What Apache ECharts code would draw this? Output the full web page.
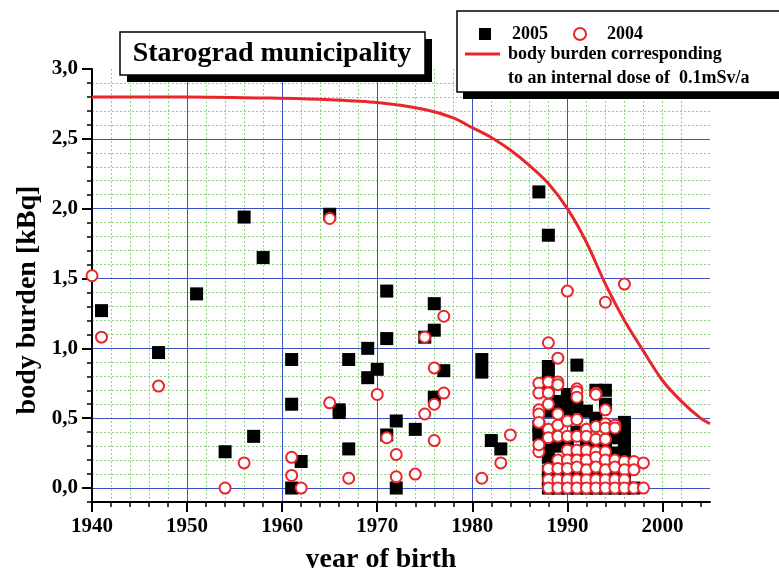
<!DOCTYPE html>
<html>
<head>
<meta charset="utf-8">
<script src="https://cdn.jsdelivr.net/npm/echarts@6/dist/echarts.min.js"></script>
<style>
html, body { margin: 0; padding: 0; background: #fff; }
#chart { width: 779px; height: 568px; }
</style>
</head>
<body>
<div id="chart"></div>
<script>
const FONT = '"Liberation Serif", "Times New Roman", serif'
const BLUE = '#3a52c0'
const GREEN = '#8fd27f'
const RED = '#e8262b'

// tick labels
const xTicks = [1940, 1950, 1960, 1970, 1980, 1990, 2000]
const yTicks = [0, 0.5, 1.0, 1.5, 2.0, 2.5, 3.0]

// 2005 measurements [year of birth, body burden kBq]
const data2005 = [
    [1941, 1.27], [1947, 0.97], [1951, 1.39], [1954, 0.26], [1956, 1.94], [1957, 0.37],
    [1958, 1.65], [1961, 0.92], [1961, 0.60], [1961, 0.0], [1962, 0.19], [1965, 1.96],
    [1966, 0.54], [1966, 0.56], [1967, 0.92], [1967, 0.28], [1969, 1.0], [1969, 0.79],
    [1970, 0.85], [1971, 1.41], [1971, 1.07], [1971, 0.38], [1972, 0.48], [1972, 0.0],
    [1974, 0.42], [1975, 1.08], [1976, 1.32], [1976, 1.13], [1976, 0.65], [1977, 0.84],
    [1981, 0.92], [1981, 0.83], [1982, 0.34], [1983, 0.28], [1987, 2.12], [1988, 1.81],
    [1987, 0.44], [1987, 0.38],
    [1988, 0.87], [1988, 0.78], [1988, 0.70], [1988, 0.55], [1988, 0.40], [1988, 0.30],
    [1988, 0.22], [1988, 0.12], [1988, 0.05], [1988, 0.0],
    [1989, 0.62], [1989, 0.30], [1989, 0.10], [1989, 0.0],
    [1990, 0.67], [1990, 0.62], [1990, 0.55], [1990, 0.35], [1990, 0.15], [1990, 0.0],
    [1991, 0.88], [1991, 0.58], [1991, 0.40], [1991, 0.25], [1991, 0.10], [1991, 0.0],
    [1992, 0.55], [1992, 0.33], [1992, 0.10], [1992, 0.0],
    [1993, 0.70], [1993, 0.50], [1993, 0.30], [1993, 0.10], [1993, 0.0],
    [1994, 0.70], [1994, 0.60], [1994, 0.30], [1994, 0.10], [1994, 0.0],
    [1995, 0.36], [1995, 0.25], [1995, 0.10], [1995, 0.0],
    [1996, 0.47], [1996, 0.41], [1996, 0.35], [1996, 0.30], [1996, 0.23], [1996, 0.17],
    [1996, 0.10], [1996, 0.05], [1996, 0.0], [1997, 0.0]
]

// 2004 measurements
const data2004 = [
    [1940, 1.52], [1941, 1.08], [1947, 0.73], [1954, 0.0], [1956, 0.18], [1961, 0.22],
    [1961, 0.09], [1962, 0.0], [1965, 1.93], [1965, 0.61], [1967, 0.07], [1970, 0.67],
    [1971, 0.36], [1972, 0.24], [1972, 0.08], [1974, 0.10], [1975, 1.08], [1975, 0.53],
    [1976, 0.86], [1976, 0.60], [1976, 0.34], [1977, 1.23], [1977, 0.68], [1981, 0.07],
    [1983, 0.18], [1984, 0.38], [1987, 0.26], [1988, 1.04], [1989, 0.93], [1990, 1.41],
    [1994, 1.33], [1996, 1.46],
    [1987, 0.75], [1987, 0.68], [1987, 0.56], [1987, 0.53], [1987, 0.47], [1987, 0.31],
    [1988, 0.76], [1988, 0.68], [1988, 0.60], [1988, 0.42], [1988, 0.36], [1988, 0.14],
    [1988, 0.06], [1988, 0.0],
    [1989, 0.76], [1989, 0.74], [1989, 0.53], [1989, 0.45], [1989, 0.37], [1989, 0.20],
    [1989, 0.14], [1989, 0.06], [1989, 0.0],
    [1990, 0.48], [1990, 0.37], [1990, 0.27], [1990, 0.20], [1990, 0.14], [1990, 0.06], [1990, 0.0],
    [1991, 0.71], [1991, 0.69], [1991, 0.65], [1991, 0.49], [1991, 0.37], [1991, 0.27],
    [1991, 0.20], [1991, 0.15], [1991, 0.06], [1991, 0.0],
    [1992, 0.42], [1992, 0.37], [1992, 0.27], [1992, 0.20], [1992, 0.13], [1992, 0.06], [1992, 0.0],
    [1993, 0.68], [1993, 0.67], [1993, 0.44], [1993, 0.35], [1993, 0.26], [1993, 0.22],
    [1993, 0.15], [1993, 0.06], [1993, 0.0],
    [1994, 0.56], [1994, 0.46], [1994, 0.43], [1994, 0.35], [1994, 0.26], [1994, 0.20],
    [1994, 0.13], [1994, 0.06], [1994, 0.0],
    [1995, 0.45], [1995, 0.43], [1995, 0.20], [1995, 0.15], [1995, 0.06], [1995, 0.0],
    [1996, 0.19], [1996, 0.13], [1996, 0.06], [1996, 0.0],
    [1997, 0.19], [1997, 0.13], [1997, 0.0],
    [1998, 0.18], [1998, 0.0]
]

// body burden for an internal dose of 0.1 mSv/a
const curveYears = [1940, 1950, 1960, 1965, 1970, 1975, 1978, 1980, 1982, 1984, 1986, 1988, 1990, 1992, 1994, 1996, 1998, 2000, 2002, 2004, 2005]
const curveValues = [2.80, 2.80, 2.79, 2.78, 2.76, 2.71, 2.65, 2.58, 2.51, 2.42, 2.31, 2.18, 2.00, 1.76, 1.46, 1.20, 0.98, 0.77, 0.62, 0.50, 0.46]

const curveName = 'body burden corresponding\nto an internal dose of  0.1mSv/a'
const curveLines = curveName.split('\n')

// minor ticks every 2 years
const minorX = []
for (let y = 1940; y < 2005; y += 2) minorX.push(y)

const chart = echarts.init(document.getElementById('chart'))

const labelStyle = { color: '#000', fontFamily: FONT, fontWeight: 'bold', fontSize: 21 }
const legendText = { color: '#000', fontFamily: FONT, fontWeight: 'bold', fontSize: 18 }

const option = {
    animation: false,
    grid: { left: 92, right: 69, top: 69, bottom: 66, outerBoundsMode: 'none' },
    xAxis: [{
        // dotted minor grid
        type: 'value', min: 1940, max: 2005, interval: 2, position: 'bottom', z: 0,
        axisLine: { show: false, onZero: false },
        axisTick: { show: true, length: 5, customValues: minorX, lineStyle: { color: '#000', width: 1.5 } },
        axisLabel: { show: false },
        splitLine: { show: true, showMaxLine: false, lineStyle: { color: GREEN, type: [2, 2], width: 1 } }
    }, {
        type: 'value', min: 1940, max: 2005, interval: 10, position: 'bottom', z: 1,
        axisLine: { onZero: false, lineStyle: { color: '#000', width: 2 } },
        axisTick: { length: 10, customValues: xTicks, lineStyle: { color: '#000', width: 2 } },
        axisLabel: Object.assign({ customValues: xTicks, margin: 14, formatter: v => String(v) }, labelStyle),
        splitLine: { show: true, showMaxLine: false, lineStyle: { color: BLUE, width: 1 } }
    }],
    yAxis: [{
        type: 'value', min: -0.1, max: 3.0, interval: 0.1, position: 'left', z: 0,
        axisLine: { show: false, onZero: false },
        axisTick: { show: true, length: 5, lineStyle: { color: '#000', width: 1.5 } },
        axisLabel: { show: false },
        splitLine: { show: true, showMaxLine: false, lineStyle: { color: GREEN, type: [2, 2], width: 1 } }
    }, {
        type: 'value', min: -0.1, max: 3.0, position: 'left', z: 1,
        axisLine: { show: true, onZero: false, lineStyle: { color: '#000', width: 2 } },
        axisTick: { show: true, length: 10, customValues: yTicks, lineStyle: { color: '#000', width: 2 } },
        axisLabel: Object.assign({
            customValues: yTicks, margin: 14,
            formatter: v => (v < -0.05 ? '' : v.toFixed(1).replace('.', ','))
        }, labelStyle),
        splitLine: { show: true, showMaxLine: false, lineStyle: { color: BLUE, width: 1 } }
    }],
    legend: [{
        data: ['2005', '2004'], left: 479, top: 25, padding: 0, z: 10,
        itemWidth: 12, itemHeight: 12, itemGap: 25,
        textStyle: Object.assign({ padding: [0, 0, 0, 16] }, legendText)
    }, {
        data: [curveName], left: 465, top: 45, padding: 0, z: 10,
        icon: 'rect', itemWidth: 35, itemHeight: 3,
        formatter: name => name.split('\n')[0],
        textStyle: Object.assign({ padding: [0, 0, 0, 3] }, legendText)
    }],
    graphic: [
        // title box with shadow
        { type: 'rect', z: 3, shape: { x: 127, y: 39, width: 305, height: 43 }, style: { fill: '#000' } },
        { type: 'rect', z: 3, shape: { x: 120, y: 32, width: 305, height: 43 }, style: { fill: '#fff', stroke: '#000', lineWidth: 1.5 } },
        { type: 'text', z: 3, x: 272, y: 54, style: { text: 'Starograd municipality', align: 'center', verticalAlign: 'middle', fill: '#000', font: 'bold 28px ' + FONT } },
        // legend box with shadow
        { type: 'rect', z: 3, shape: { x: 463, y: 18, width: 330, height: 81 }, style: { fill: '#000' } },
        { type: 'rect', z: 3, shape: { x: 457, y: 11, width: 330, height: 81 }, style: { fill: '#fff', stroke: '#000', lineWidth: 1.5 } },
        { type: 'text', z: 11, x: 508, y: 78, style: { text: curveLines[1], verticalAlign: 'middle', fill: '#000', font: 'bold 18px ' + FONT } },
        // axis names
        { type: 'text', z: 3, x: 28, y: 300, rotation: Math.PI / 2, style: { text: 'body burden [kBq]', align: 'center', verticalAlign: 'middle', fill: '#000', font: 'bold 28px ' + FONT } },
        { type: 'text', z: 3, x: 381, y: 560, style: { text: 'year of birth', align: 'center', verticalAlign: 'middle', fill: '#000', font: 'bold 28px ' + FONT } }
    ],
    series: [{
        name: '2005', type: 'scatter', xAxisIndex: 1, yAxisIndex: 1,
        symbol: 'rect', symbolSize: 13, z: 2,
        itemStyle: { color: '#000', opacity: 1 },
        data: data2005
    }, {
        name: '2004', type: 'scatter', xAxisIndex: 1, yAxisIndex: 1,
        symbol: 'circle', symbolSize: 11, z: 3,
        itemStyle: { color: '#fff', borderColor: RED, borderWidth: 2, opacity: 1 },
        data: data2004
    }, {
        name: curveName, type: 'line', xAxisIndex: 1, yAxisIndex: 1,
        smooth: 0.3, symbol: 'none', z: 4,
        lineStyle: { color: RED, width: 3 },
        itemStyle: { color: RED },
        data: curveYears.map((y, i) => [y, curveValues[i]])
    }]
}

chart.setOption(option)
</script>
</body>
</html>
